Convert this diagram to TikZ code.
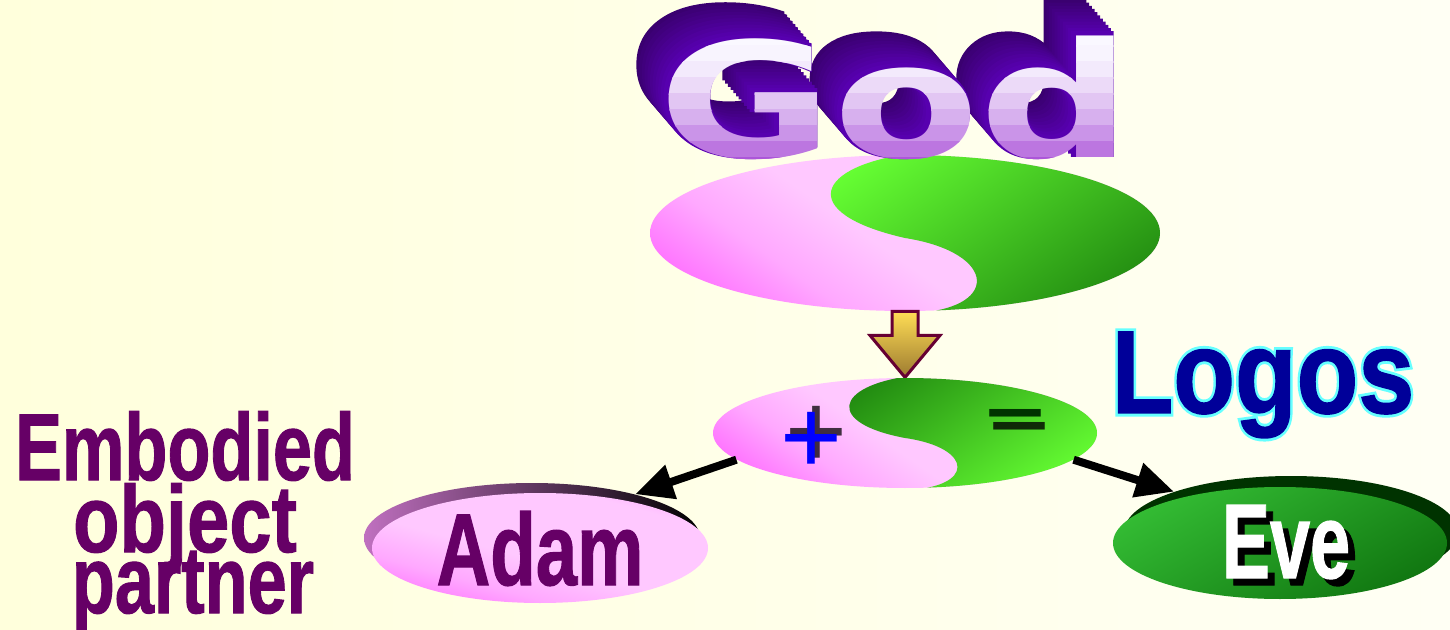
\documentclass[tikz,border=0pt]{standalone}
\usepackage{fontspec}
\usepackage{graphicx}
\usetikzlibrary{arrows.meta,shapes.geometric}
\newfontfamily\imp[FakeBold=1.2]{Liberation Sans Bold}
\newfontfamily\impout[FakeBold=6]{Liberation Sans Bold}
\newfontfamily\godfont{DejaVu Sans Bold}
\newfontfamily\godext[FakeBold=2.5]{DejaVu Sans Bold}
\newfontfamily\symfont{Liberation Sans}
\definecolor{bgL}{HTML}{FFFFDC}
\definecolor{bgR}{HTML}{FFFFF4}
\definecolor{pkL}{HTML}{FFC8FF}
\definecolor{pkM}{HTML}{FFA8FF}
\definecolor{pkD}{HTML}{FF66FF}
\definecolor{gBright}{HTML}{66FF33}
\definecolor{gDark}{HTML}{228B11}
\definecolor{eveL}{HTML}{33BB33}
\definecolor{eveD}{HTML}{117711}
\definecolor{eveSh}{HTML}{003300}
\definecolor{purp}{HTML}{660066}
\definecolor{adamSh}{HTML}{C070C0}
\definecolor{logoblue}{HTML}{000099}
\definecolor{logocyan}{HTML}{66FFFF}
\definecolor{arrTop}{HTML}{FFDD55}
\definecolor{arrBot}{HTML}{9C7A30}
\definecolor{arrLine}{HTML}{660033}
\definecolor{godDark}{HTML}{3A0070}
\definecolor{godSide}{HTML}{5A00B5}
\definecolor{godTop}{HTML}{FAF8FF}
\definecolor{godBot}{HTML}{9A30D0}
\definecolor{minusG}{HTML}{003300}
\pgfdeclareverticalshading{pinkv}{100bp}{color(0bp)=(pkD); color(20bp)=(pkD); color(34bp)=(pkM); color(46bp)=(pkL); color(70bp)=(pkL); color(78bp)=(pkM); color(100bp)=(pkM)}
\begin{document}
\begin{tikzpicture}[x=0.5pt,y=-0.5pt,
  ell/.style={ellipse, inner sep=0pt},
  imptext/.style={inner sep=0pt, anchor=base},
  godtext/.style={inner sep=0pt, anchor=base, font=\godfont\fontsize{80pt}{80pt}\selectfont},
  godexttext/.style={inner sep=0pt, anchor=base, font=\godext\fontsize{80pt}{80pt}\selectfont},
  symtext/.style={inner sep=0pt, font=\symfont\fontsize{53pt}{53pt}\selectfont},
  pinkfill/.style={shading=pinkv, shading angle=-35},
  bigarrow/.style={line width=4pt, -{Triangle[length=19pt,width=17pt]}},
  blockarrow/.style={top color=arrTop, bottom color=arrBot, draw=arrLine, line width=1.5pt, line join=miter}
]
\useasboundingbox (0,0) rectangle (1450,630);
\shade[left color=bgL, right color=bgR] (0,0) rectangle (1450,630);

% top yin-yang ellipse
\node[ell, minimum width=255pt, minimum height=78pt] (top) at (905,233) {};
\begin{scope}
  \clip (905,233) ellipse [x radius=255, y radius=78];
  \shade[pinkfill] (650,155) rectangle (1160,311);
  \shade[top color=gBright, bottom color=gDark, shading angle=35]
    (915,153) .. controls (815,165) and (795,213) .. (905,238)
    .. controls (1000,253) and (1000,311) .. (910,313)
    -- (1170,320) -- (1170,145) -- cycle;
\end{scope}

% block arrow down
\draw[blockarrow] (top.south) ++(-13,0) -- ++(26,0) -- ++(0,24) -- ++(22,0)
  -- ++(-35,42) -- ++(-35,-42) -- ++(22,0) -- cycle;

% middle yin-yang ellipse
\node[ell, minimum width=192pt, minimum height=55pt] (mid) at (905,433) {};
\begin{scope}
  \clip (905,433) ellipse [x radius=192, y radius=55];
  \shade[pinkfill] (713,378) rectangle (1097,488);
  \shade[top color=gDark, bottom color=gBright, shading angle=35]
    (910,376) .. controls (835,386) and (825,423) .. (905,438)
    .. controls (975,448) and (975,488) .. (905,490)
    -- (1105,495) -- (1105,370) -- cycle;
\end{scope}

% plus and minus
\node[symtext, text=black, opacity=0.75] (plussh) at (816,437) {+};
\node[symtext, text=blue] (plus) at (811,443) {+};
\node[symtext, text=black, opacity=0.8] (minussh) at (1019,442) {−};
\node[symtext, text=minusG] (minus) at (1015,429) {−};

% Adam
\node[ell, minimum width=168pt, minimum height=55pt, left color=adamSh, right color=black] (adamsh) at (532,538) {};
\node[ell, minimum width=168pt, minimum height=55pt] (adamell) at (540,548) {};
\shade[shading=pinkv, shading angle=-15] (540,548) ellipse [x radius=168, y radius=55];
\node[imptext, text=purp, font=\imp\fontsize{51pt}{51pt}\selectfont] (adam) at (540,585) {\scalebox{0.73}[1]{Adam}};

% Eve
\node[ell, minimum width=167pt, minimum height=56pt, fill=eveSh] (evesh) at (1291,532) {};
\node[ell, minimum width=167pt, minimum height=56pt, top color=eveL, bottom color=eveD, shading angle=30] (eveell) at (1280,543) {};
\node[imptext, text=black, font=\imp\fontsize{53pt}{53pt}\selectfont] (eveshadow) at (1293,585) {\scalebox{0.68}[1]{Eve}};
\node[imptext, text=white, font=\imp\fontsize{53pt}{53pt}\selectfont] (eve) at (1286,578) {\scalebox{0.68}[1]{Eve}};

% arrows
\draw[bigarrow] (mid.189) -- (adamsh.23);
\draw[bigarrow] (mid.351) -- (evesh.161.6);

% Logos with cyan outline
\node[imptext, text=logocyan, font=\impout\fontsize{59pt}{59pt}\selectfont] (logosout) at (1263,413) {\scalebox{0.855}[1]{Logos}};
\node[imptext, text=logoblue, font=\imp\fontsize{59pt}{59pt}\selectfont] (logos) at (1263,413) {\scalebox{0.855}[1]{Logos}};

% Embodied object partner
\node[imptext, text=purp, font=\imp\fontsize{47.5pt}{47.5pt}\selectfont] (emb1) at (185,480) {\scalebox{0.74}[1]{Embodied}};
\node[imptext, text=purp, font=\imp\fontsize{47.5pt}{47.5pt}\selectfont] (emb2) at (185,552) {\scalebox{0.8}[1]{object}};
\node[imptext, text=purp, font=\imp\fontsize{47.5pt}{47.5pt}\selectfont] (emb3) at (193,613) {\scalebox{0.74}[1]{partner}};

% God: extrusion
\foreach \i in {11,...,1}{
  \pgfmathtruncatemacro\p{100*\i/11}
  \node[godexttext, text=godDark!\p!godSide] (gode\i) at (895-30*\i/11,158-35*\i/11) {\scalebox{1.33}[1]{God}};
}
% God: front face with banded gradient
\foreach \i in {0,...,9}{
  \pgfmathtruncatemacro\p{100*(\i/9)^1.7}
  \pgfmathsetmacro\ya{30+16*\i}
  \begin{scope}
    \clip (600,\ya) rectangle (1200,\ya+17);
    \node[godtext, text=godBot!\p!godTop] (godf\i) at (895,158) {\scalebox{1.33}[1]{God}};
  \end{scope}
}
\end{tikzpicture}
\end{document}
